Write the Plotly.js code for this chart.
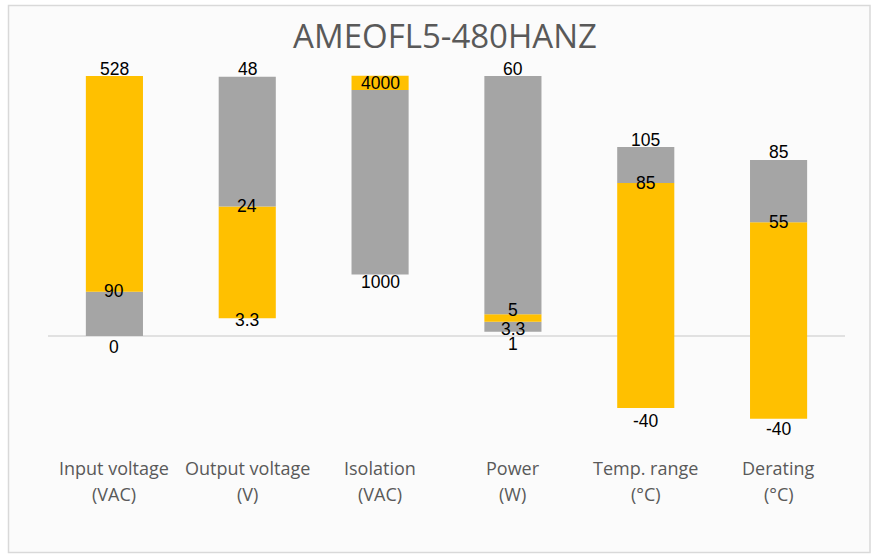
<!DOCTYPE html>
<html>
<head>
<meta charset="utf-8">
<script src="https://cdn.plot.ly/plotly-3.0.1.min.js"></script>
<style>
  html, body { margin: 0; padding: 0; background: #ffffff; }
  #chart { width: 879px; height: 555px; }
</style>
</head>
<body>
<div id="chart"></div>
<script>
// ---- data ----
const categories = ['Input voltage', 'Output voltage', 'Isolation', 'Power', 'Temp. range', 'Derating'];
const units = ['(VAC)', '(V)', '(VAC)', '(W)', '(°C)', '(°C)'];

// segment boundaries (bottom to top) per category
const inputVoltage  = [0, 90, 528];
const outputVoltage = [3.3, 24, 48];
const isolation     = [1000, 4000, 4230];
const power         = [1, 3.3, 5, 60];
const tempRange     = [-40, 85, 105];
const derating      = [-40, 55, 85];

// which boundaries carry a value label
const inputLabels  = ['0', '90', '528'];
const outputLabels = ['3.3', '24', '48'];
const isoLabels    = ['1000', '4000', null];
const powerLabels  = ['1', '3.3', '5', '60'];
const tempLabels   = ['-40', '85', '105'];
const deratLabels  = ['-40', '55', '85'];

// ---- styling / per-category display scale (px per unit) ----
const YELLOW = '#FFC000', GRAY = '#A5A5A5';
const scale = [260 / 528, 5.4, 0.0615, 260 / 60, 1.80, 2.07];
const segColors = [
  [GRAY, YELLOW], [YELLOW, GRAY], [GRAY, YELLOW],
  [GRAY, YELLOW, GRAY], [YELLOW, GRAY], [YELLOW, GRAY]
];
const labelShift = [
  [-10.5, 0.5, 7.5],
  [-2, 0, 8],
  [-7, 7, 0],
  [-12, -7, 4.5, 7],
  [-13, 0, 7],
  [-10, 0, 8]
];

const bounds = [inputVoltage, outputVoltage, isolation, power, tempRange, derating];
const labels = [inputLabels, outputLabels, isoLabels, powerLabels, tempLabels, deratLabels];

const maxSeg = Math.max(...bounds.map(b => b.length - 1));
const traces = [];
for (let k = 0; k < maxSeg; k++) {
  const base = [], height = [], colors = [];
  bounds.forEach((b, i) => {
    if (k < b.length - 1) {
      base.push(b[k] * scale[i]);
      height.push((b[k + 1] - b[k]) * scale[i]);
      colors.push(segColors[i][k]);
    } else {
      base.push(null); height.push(null); colors.push('rgba(0,0,0,0)');
    }
  });
  traces.push({
    type: 'bar', x: categories, y: height, base: base,
    width: 0.43, marker: { color: colors, line: { width: 0 } },
    hoverinfo: 'skip', showlegend: false
  });
}

const annotations = [];
bounds.forEach((b, i) => {
  b.forEach((v, j) => {
    const t = labels[i][j];
    if (t === null) return;
    annotations.push({
      x: categories[i], y: v * scale[i], xref: 'x', yref: 'y',
      text: t, showarrow: false, yanchor: 'middle', xanchor: 'center',
      yshift: labelShift[i][j],
      font: { family: 'Liberation Sans, Arial, sans-serif', size: 17.5, color: '#000000' }
    });
  });
});
categories.forEach((c, i) => {
  annotations.push({
    x: c, y: 336 - 468, xref: 'x', yref: 'y', text: c, showarrow: false,
    yanchor: 'middle', font: { family: 'Open Sans, sans-serif', size: 18, color: '#595959' }
  });
  annotations.push({
    x: c, y: 336 - 494, xref: 'x', yref: 'y', text: units[i], showarrow: false,
    yanchor: 'middle', font: { family: 'Open Sans, sans-serif', size: 18, color: '#595959' }
  });
});

const L = 48, R = 34, W = 879, H = 555, PW = W - L - R;
const layout = {
  width: W, height: H,
  margin: { l: L, r: R, t: 0, b: 0, pad: 0 },
  paper_bgcolor: '#ffffff', plot_bgcolor: 'rgba(0,0,0,0)',
  barmode: 'overlay',
  title: {
    text: 'AMEOFL5-480HANZ', x: 445 / W, xanchor: 'center',
    y: 1 - 36 / H, yanchor: 'middle', yref: 'container',
    font: { family: 'Open Sans, sans-serif', size: 33, color: '#595959' }
  },
  xaxis: { visible: false, range: [-0.5, 5.5], fixedrange: true },
  yaxis: { visible: false, range: [-(H - 336), 336], fixedrange: true },
  shapes: [
    { type: 'rect', layer: 'below', xref: 'paper', yref: 'y',
      x0: (8.5 - L) / PW, x1: (870 - L) / PW, y0: 336 - 552.5, y1: 336 - 5.5,
      line: { color: '#d9d9d9', width: 1.5 }, fillcolor: '#fbfbfb' },
    { type: 'line', layer: 'below', xref: 'paper', yref: 'y',
      x0: 0, x1: 1, y0: 0, y1: 0, line: { color: '#d9d9d9', width: 1.5 } }
  ],
  annotations: annotations
};

Plotly.newPlot('chart', traces, layout, { displayModeBar: false, staticPlot: true });
</script>
</body>
</html>
